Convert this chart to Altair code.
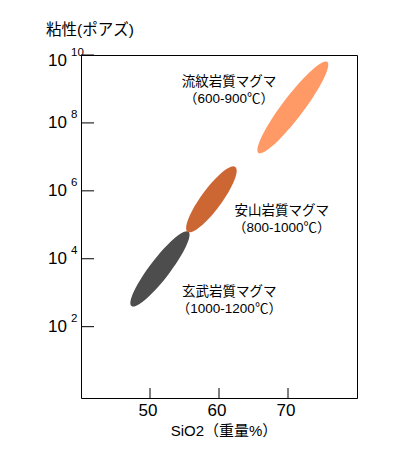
import altair as alt
import pandas as pd

# ---- data ----
magma_names = ["玄武岩質マグマ", "安山岩質マグマ", "流紋岩質マグマ"]
magma_temps = ["（1000-1200℃）", "（800-1000℃）", "（600-900℃）"]
sio2_low = [47.3, 55.4, 65.7]          # SiO2 wt% at lower-left tip
sio2_high = [55.6, 62.4, 75.7]         # SiO2 wt% at upper-right tip
visc_low = [4.0e2, 6.3e4, 1.3e7]       # viscosity (poise) at lower-left tip
visc_high = [6.3e4, 5.0e6, 6.3e9]      # viscosity (poise) at upper-right tip
label_sio2 = [61.5, 69.1, 61.45]       # label anchor (SiO2)
label_visc = [6.0e2, 1.4e5, 9.3e8]     # label anchor (viscosity)
x_ticks = [50, 60, 70]
y_exponents = [2, 4, 6, 8, 10]

# ---- styles ----
colors = ["#4d4d4d", "#cc6633", "#ff9966"]
ell_size = [8761, 6496, 13042]      # (major axis length in px)^2
ell_ratio = [0.214, 0.253, 0.187]   # minor/major
ell_angle = [307.5, 306.4, 307.1]
NUM_FONT = "Liberation Sans"
JP_FONT = "Liberation Sans, Noto Sans CJK JP"
W, H = 276, 343

def ellipse_path(r, k=0.5523):
    return (f"M-1,0 C-1,{-k*r:.4f} {-k},{-r:.4f} 0,{-r:.4f} "
            f"C{k},{-r:.4f} 1,{-k*r:.4f} 1,0 "
            f"C1,{k*r:.4f} {k},{r:.4f} 0,{r:.4f} "
            f"C{-k},{r:.4f} -1,{k*r:.4f} -1,0 Z")

magma = pd.DataFrame({
    "idx": list(range(3)),
    "name": magma_names, "temp": magma_temps,
    "sio2_low": sio2_low, "sio2_high": sio2_high,
    "visc_low": visc_low, "visc_high": visc_high,
    "lx": label_sio2, "ly": label_visc,
})

xs = alt.Scale(domain=[40, 80], nice=False, zero=False)
ys = alt.Scale(type="log", domain=[10 ** -0.1, 1e10], nice=False)

base = alt.Chart(magma).transform_calculate(
    cx="(datum.sio2_low + datum.sio2_high) / 2",
    cy="sqrt(datum.visc_low * datum.visc_high)",
)

layers = []
for i in range(3):
    layers.append(
        base.transform_filter(alt.datum.idx == i).mark_point(
            shape=ellipse_path(ell_ratio[i]), size=ell_size[i], angle=ell_angle[i],
            filled=True, color=colors[i], opacity=1, strokeWidth=0,
        ).encode(
            x=alt.X("cx:Q", scale=xs, axis=None),
            y=alt.Y("cy:Q", scale=ys, axis=None),
        )
    )

# annotations
for field, dy in (("name", -8.5), ("temp", 8.5)):
    layers.append(
        alt.Chart(magma).mark_text(
            font=JP_FONT, fontSize=13.5, color="black", align="center",
            baseline="middle", dy=dy,
        ).encode(
            x=alt.X("lx:Q", scale=xs, axis=None),
            y=alt.Y("ly:Q", scale=ys, axis=None),
            text=f"{field}:N",
        )
    )

# ticks
ydf = pd.DataFrame({"e": y_exponents})
ydf["v"] = [10.0 ** e for e in y_exponents]
ydf["es"] = [str(e) for e in y_exponents]
xdf = pd.DataFrame({"t": x_ticks, "ts": [str(t) for t in x_ticks]})

layers.append(
    alt.Chart(ydf).mark_rule(color="black", strokeWidth=1).encode(
        y=alt.Y("v:Q", scale=ys, axis=None), x=alt.value(0), x2=alt.value(13)
    )
)
layers.append(
    alt.Chart(xdf).mark_rule(color="black", strokeWidth=1).encode(
        x=alt.X("t:Q", scale=xs, axis=None), y=alt.value(H), y2=alt.value(H - 10)
    )
)

# y tick labels 10^n
for cond, shift in ((alt.datum.e < 10, 0), (alt.datum.e == 10, 6)):
    yl = alt.Chart(ydf).transform_filter(cond)
    layers.append(
        yl.mark_text(font=NUM_FONT, fontSize=17, align="right", baseline="middle",
                     color="black", dy=shift).encode(
            y=alt.Y("v:Q", scale=ys, axis=None), x=alt.value(-14), text=alt.value("10")
        )
    )
    layers.append(
        yl.mark_text(font=NUM_FONT, fontSize=11.5, align="left", baseline="middle",
                     color="black", dy=shift - 8).encode(
            y=alt.Y("v:Q", scale=ys, axis=None), x=alt.value(-10), text="es:N"
        )
    )

# x tick labels
layers.append(
    alt.Chart(xdf).mark_text(font=NUM_FONT, fontSize=17, align="center",
                             baseline="middle", color="black", dx=-2).encode(
        x=alt.X("t:Q", scale=xs, axis=None), y=alt.value(H + 13), text="ts:N"
    )
)

# titles
one = alt.Data(values=[{}])
layers.append(
    alt.Chart(one).mark_text(font=JP_FONT, fontSize=15, align="center",
                             baseline="middle", color="black").encode(
        x=alt.value(143), y=alt.value(H + 33), text=alt.value("SiO2（重量%）")
    )
)
layers.append(
    alt.Chart(one).mark_text(font=JP_FONT, fontSize=15.5, align="left",
                             baseline="middle", color="black").encode(
        x=alt.value(-35), y=alt.value(-25), text=alt.value("粘性(ポアズ)")
    )
)

chart = alt.layer(*layers).properties(
    width=W, height=H,
    autosize=alt.AutoSizeParams(type="none"),
    padding={"left": 81, "top": 55, "right": 41, "bottom": 59},
    background="white",
).configure_view(stroke="black", strokeWidth=1)

chart.save("out.html", embed_options={"renderer": "svg", "actions": False})
